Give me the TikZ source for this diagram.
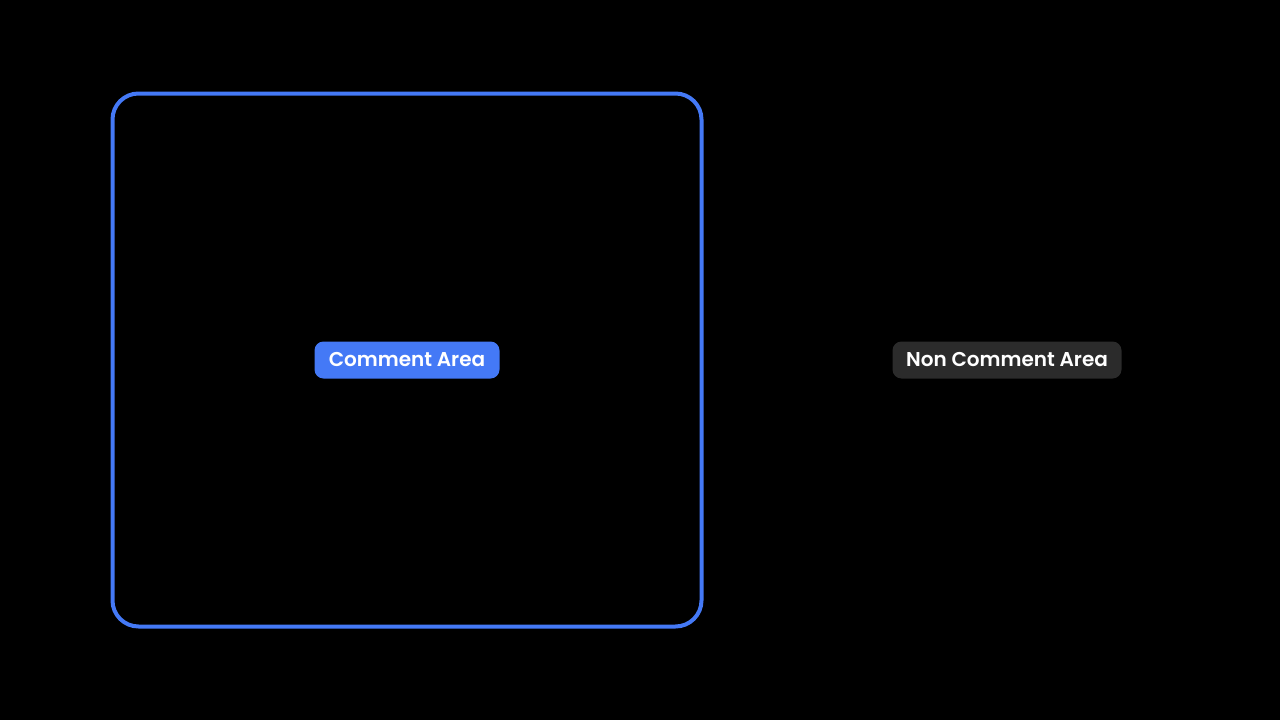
\documentclass[tikz,border=0pt]{standalone}
\usepackage{fontspec}
\setmainfont{Poppins}[BoldFont={Poppins SemiBold}]
\usetikzlibrary{positioning}
\definecolor{areablue}{HTML}{4479F6}
\definecolor{tagdark}{HTML}{2B2B2B}

\begin{document}
\begin{tikzpicture}[x=1pt,y=-1pt,font=\fontsize{20}{24}\selectfont\bfseries,
    tag/.style={text=white,rounded corners=9pt,minimum height=37pt,inner sep=0pt}]
    \fill[black] (0,0) rectangle (1280,720);
    \useasboundingbox (0,0) rectangle (1280,720);
    \node[draw=areablue,line width=4pt,rounded corners=26pt,minimum width=589pt,minimum height=533pt] (area) at (407,360) {};
    \node[tag,fill=areablue,minimum width=185pt] (inlabel) at (area.center) {Comment Area};
    \node[tag,fill=tagdark,minimum width=229pt] (outlabel) at (1007,360) {Non Comment Area};
  \end{tikzpicture}
\end{document}
